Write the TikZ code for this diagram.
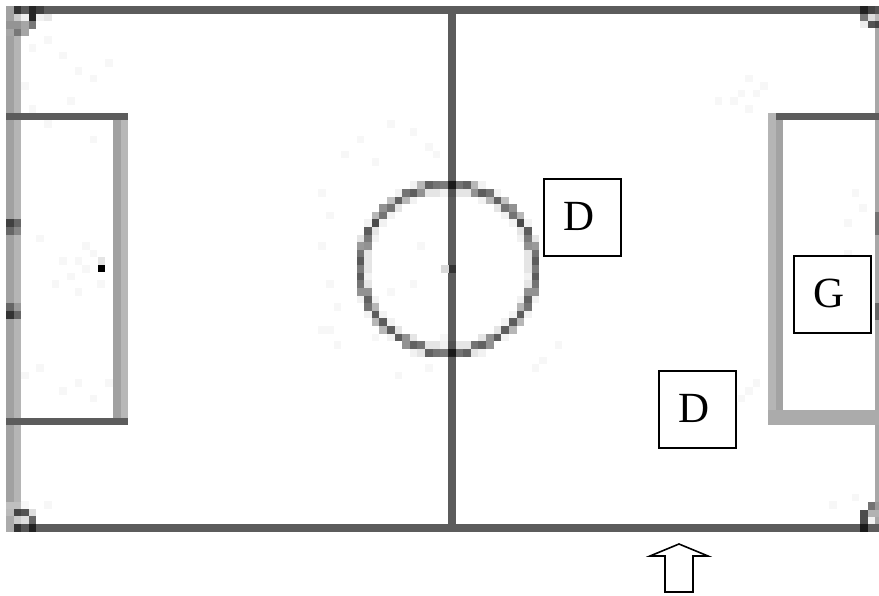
\documentclass[tikz,border=0pt]{standalone}
\usepackage{fontspec}
\setmainfont{Liberation Serif}
\definecolor{darkline}{gray}{0.36}
\definecolor{noise}{gray}{0.97}
\newcommand{\gridcell}[3]{\fill[black!#3] ({6+7.62*#1},{6+7.62*#2}) rectangle ++(7.62,7.62);}
\newcommand{\ptext}[1]{\hspace*{-6pt}\raisebox{2pt}{#1}}
\tikzset{
  darkstroke/.style={draw=darkline,line width=7.5pt},
  noisecell/.style={fill=noise},
  player/.style={draw=black,line width=2pt,fill=white,minimum size=77pt,inner sep=0pt,font=\fontsize{43}{43}\selectfont},
  pointer/.style={draw=black,line width=1.6pt,fill=white,line join=miter}
}
\begin{document}
\begin{tikzpicture}[x=1pt,y=-1pt]
\useasboundingbox[fill=white] (0,0) rectangle (879,595);
% faint noise around the markings
\foreach \i/\j in {2/3,3/5,5/4,7/6,9/8,11/9,13/7,2/10,3/13,5/15,8/12,11/17,13/14,
  9/33,10/34,8/35,11/32,12/36,10/31,9/37,4/30,7/33,6/36,
  2/48,4/47,7/50,9/49,11/51,13/49,3/66,5/65,2/65,
  41/24,42/27,41/31,42/36,43/39,42/42,44/19,46/17,48/20,50/15,53/16,55/18,56/19,
  41/42,43/44,57/43,58/45,70/46,72/44,69/47,55/47,51/48,48/43,46/33,54/31,53/36,50/37,
  97/9,98/11,99/10,96/11,95/12,97/13,93/12,100/14,
  97/50,96/51,95/52,98/49,92/50,90/48,91/51,
  111/24,112/26,110/28,110/32,111/37,111/64,108/65}{
  \fill[noisecell] ({6+7.62*\i},{6+7.62*\j}) rectangle ++(7.62,7.62);
}
% touch lines
\fill[black!37] (6,10) rectangle (13.6,528);
\fill[black!29] (13.6,10) rectangle (21.2,528);
\fill[black!34] (875,10) rectangle (879,528);
% left penalty area
\fill[black!37] (113,116) rectangle (120.6,424);
\fill[black!28] (120.6,116) rectangle (128,424);
% right penalty area
\fill[black!29] (768,113) rectangle (775.6,425);
\fill[black!36] (775.6,113) rectangle (783,425);
\fill[black!33] (768,410) rectangle (879,425);
% long lines
\draw[darkstroke] (6,10) -- (879,10);
\draw[darkstroke] (6,528) -- (879,528);
\draw[darkstroke] (452,6) -- (452,532);
\draw[darkstroke,line width=7pt] (6,116.5) -- (128,116.5);
\draw[darkstroke,line width=7pt] (6,421.5) -- (128,421.5);
\draw[darkstroke,line width=7pt] (776,116.5) -- (879,116.5);
% centre circle, as coarse cells
\foreach \a in {0,1.5,...,358.5}{
  \pgfmathsetmacro{\cx}{6+7.62*floor((448+87*cos(\a)-6)/7.62)}
  \pgfmathsetmacro{\cy}{6+7.62*floor((268.5+83.5*sin(\a)-6)/7.62)}
  \fill[black,fill opacity=0.2] (\cx,\cy) rectangle ++(7.62,7.62);
}
\foreach \a in {0,3,...,357}{
  \pgfmathsetmacro{\cx}{6+7.62*floor((448+90*cos(\a)-6)/7.62)}
  \pgfmathsetmacro{\cy}{6+7.62*floor((268.5+86.5*sin(\a)-6)/7.62)}
  \fill[black,fill opacity=0.05] (\cx,\cy) rectangle ++(7.62,7.62);
  \pgfmathsetmacro{\dx}{6+7.62*floor((448+83*cos(\a)-6)/7.62)}
  \pgfmathsetmacro{\dy}{6+7.62*floor((268.5+79.5*sin(\a)-6)/7.62)}
  \fill[black,fill opacity=0.05] (\dx,\dy) rectangle ++(7.62,7.62);
}
% spots and line marks
\fill[black] (97.5,264.5) rectangle ++(7.5,7.5);
\fill[black!10] (97.5,257) rectangle ++(7.5,7.5);
\fill[black!80] (448.5,265) rectangle ++(7.6,7.6);
\fill[black!15] (441,265) rectangle ++(7.5,7.6);
\fill[black!90] (448.5,181) rectangle ++(7.6,7.6);
\fill[black!90] (448.5,348.5) rectangle ++(7.6,7.6);
\fill[black!75] (6,219) rectangle ++(7.6,8);
\fill[black!60] (13.6,219) rectangle ++(7.6,8);
\fill[black!60] (6,227) rectangle ++(7.6,8);
\fill[black!47] (13.6,227) rectangle ++(7.6,8);
\fill[black!60] (6,303) rectangle ++(7.6,8);
\fill[black!40] (13.6,303) rectangle ++(7.6,8);
\fill[black!80] (6,311) rectangle ++(7.6,8);
\fill[black!60] (13.6,311) rectangle ++(7.6,8);
\fill[black!55] (875,212) rectangle (879,235);
\fill[black!60] (875,303) rectangle (879,320);
% corners
\gridcell{0}{0}{37}\gridcell{1}{0}{80}\gridcell{2}{0}{65}\gridcell{3}{0}{85}\gridcell{4}{0}{75}
\gridcell{1}{1}{20}\gridcell{2}{1}{7}\gridcell{3}{1}{85}\gridcell{4}{1}{5}\gridcell{5}{1}{9}
\gridcell{0}{2}{42}\gridcell{1}{2}{42}\gridcell{2}{2}{35}\gridcell{3}{2}{53}
\gridcell{0}{3}{35}\gridcell{1}{3}{53}\gridcell{2}{3}{35}
\fill[black!25] (6,502) rectangle (21.2,509);
\fill[black!27] (6,509) rectangle (13.6,516);
\fill[black!73] (13.6,509) rectangle (21.2,516);
\fill[black!67] (21.2,509) rectangle (28.8,516);
\fill[black!13] (28.8,509) rectangle (36.4,516);
\fill[black!33] (6,516) rectangle (13.6,524);
\fill[black!20] (13.6,516) rectangle (21.2,524);
\fill[black!13] (21.2,516) rectangle (28.8,524);
\fill[black!60] (28.8,516) rectangle (36.4,524);
\fill[black!33] (6,524) rectangle (13.6,532);
\fill[black!80] (13.6,524) rectangle (21.2,532);
\fill[black!67] (21.2,524) rectangle (28.8,532);
\fill[black!87] (28.8,524) rectangle (36.4,532);
\fill[black!87] (860,6) rectangle (867.5,14);
\fill[black!73] (867.5,6) rectangle (875,14);
\fill[black!67] (875,6) rectangle (879,14);
\fill[black!53] (860,14) rectangle (867.5,21);
\fill[black!13] (867.5,14) rectangle (875,21);
\fill[black!27] (875,14) rectangle (879,21);
\fill[black!7] (860,21) rectangle (867.5,28);
\fill[black!67] (867.5,21) rectangle (875,28);
\fill[black!73] (875,21) rectangle (879,28);
\fill[black!55] (867.5,502) rectangle (875,510);
\fill[black!40] (875,502) rectangle (879,510);
\fill[black!70] (860,510) rectangle (867.5,524);
\fill[black!30] (867.5,510) rectangle (879,517);
\fill[black!90] (860,524) rectangle (867.5,532);
\fill[black!5] (867.5,517) rectangle (875,524);
% players
\node[player] (d1) at (582.2,217.5) {\ptext{D}};
\node[player] (d2) at (697.3,409.5) {\ptext{D}};
\node[player] (g) at (832,294) {\ptext{G}};
% pointer
\draw[pointer] (679,544) -- (708,556) -- (693,556) -- (693,592) -- (665,592) -- (665,556) -- (650,556) -- cycle;
\end{tikzpicture}
\end{document}
